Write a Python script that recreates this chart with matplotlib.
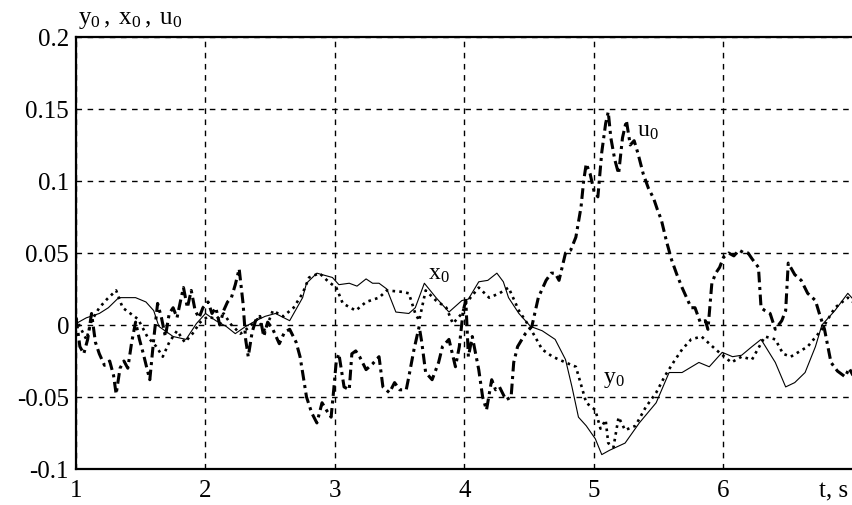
import matplotlib
matplotlib.use("Agg")
import matplotlib.pyplot as plt

plt.rcParams['font.family'] = ['Liberation Serif', 'DejaVu Serif']
plt.rcParams['mathtext.fontset'] = 'custom'
plt.rcParams['mathtext.rm'] = 'Liberation Serif'
plt.rcParams['mathtext.it'] = 'Liberation Serif'

# ---- data ----
t_x = [1.00, 1.08, 1.18, 1.25, 1.33, 1.38, 1.46, 1.54, 1.60, 1.64, 1.75, 1.85, 1.93, 2.00,
       2.08, 2.16, 2.23, 2.31, 2.39, 2.46, 2.54, 2.65, 2.75, 2.78, 2.86, 2.98, 3.03, 3.11,
       3.17, 3.24, 3.29, 3.34, 3.40, 3.47, 3.57, 3.62, 3.69, 3.78, 3.88, 3.98, 4.03, 4.11,
       4.18, 4.25, 4.30, 4.34, 4.42, 4.51, 4.60, 4.70, 4.78, 4.83, 4.88, 4.94, 5.01, 5.06,
       5.12, 5.24, 5.35, 5.48, 5.58, 5.68, 5.81, 5.89, 5.99, 6.07, 6.14, 6.22, 6.29, 6.40,
       6.48, 6.55, 6.63, 6.71, 6.76, 6.86, 6.96, 7.00]
x0 = [0.001, 0.005, 0.008, 0.012, 0.019, 0.019, 0.019, 0.016, 0.010, -0.001, -0.008, -0.010,
      0.001, 0.008, 0.003, -0.001, -0.006, -0.001, 0.003, 0.006, 0.008, 0.003, 0.019, 0.029,
      0.036, 0.033, 0.028, 0.029, 0.027, 0.032, 0.029, 0.029, 0.025, 0.009, 0.008, 0.012,
      0.029, 0.019, 0.009, 0.017, 0.018, 0.030, 0.031, 0.036, 0.030, 0.019, 0.008, -0.001,
      -0.004, -0.010, -0.024, -0.043, -0.064, -0.070, -0.079, -0.090, -0.087, -0.082, -0.068,
      -0.054, -0.033, -0.033, -0.026, -0.029, -0.019, -0.022, -0.021, -0.015, -0.010, -0.026,
      -0.043, -0.040, -0.033, -0.015, 0.000, 0.010, 0.022, 0.018]

t_y = [1.00, 1.04, 1.08, 1.12, 1.18, 1.24, 1.31, 1.36, 1.42, 1.48, 1.55, 1.62, 1.67, 1.72,
       1.78, 1.84, 1.90, 1.96, 2.02, 2.08, 2.14, 2.20, 2.27, 2.33, 2.40, 2.46, 2.52, 2.60,
       2.68, 2.75, 2.80, 2.88, 2.95, 3.01, 3.06, 3.16, 3.24, 3.34, 3.40, 3.52, 3.57, 3.62,
       3.65, 3.70, 3.78, 3.86, 3.91, 3.98, 4.01, 4.11, 4.19, 4.27, 4.34, 4.42, 4.50, 4.60,
       4.68, 4.78, 4.86, 4.94, 5.01, 5.05, 5.09, 5.11, 5.15, 5.19, 5.24, 5.32, 5.40, 5.48,
       5.55, 5.62, 5.68, 5.75, 5.83, 5.94, 6.06, 6.14, 6.22, 6.32, 6.40, 6.46, 6.52, 6.65,
       6.76, 6.86, 6.96, 7.00]
y0 = [0.005, -0.003, -0.010, 0.003, 0.012, 0.018, 0.024, 0.012, 0.008, 0.004, -0.008, -0.015,
      -0.022, -0.012, -0.004, -0.012, -0.006, 0.002, 0.006, 0.004, 0.008, 0.000, -0.006,
      -0.002, 0.004, -0.004, 0.010, 0.006, 0.012, 0.022, 0.033, 0.036, 0.030, 0.026, 0.015,
      0.010, 0.016, 0.019, 0.024, 0.023, 0.022, 0.008, 0.003, 0.024, 0.017, 0.012, 0.001,
      0.008, 0.015, 0.026, 0.019, 0.022, 0.026, 0.010, -0.001, -0.017, -0.022, -0.026, -0.029,
      -0.054, -0.059, -0.072, -0.066, -0.082, -0.085, -0.064, -0.073, -0.070, -0.057, -0.047,
      -0.035, -0.025, -0.017, -0.010, -0.008, -0.017, -0.026, -0.022, -0.024, -0.008, -0.010,
      -0.020, -0.022, -0.015, -0.003, 0.012, 0.019, 0.016]

t_u = [1.00, 1.03, 1.06, 1.09, 1.12, 1.15, 1.18, 1.22, 1.26, 1.29, 1.31, 1.34, 1.37, 1.40,
       1.43, 1.46, 1.49, 1.52, 1.55, 1.57, 1.60, 1.63, 1.66, 1.69, 1.72, 1.75, 1.78, 1.81,
       1.83, 1.86, 1.89, 1.92, 1.95, 1.98, 2.02, 2.05, 2.08, 2.11, 2.14, 2.17, 2.20, 2.23,
       2.26, 2.29, 2.31, 2.33, 2.36, 2.39, 2.42, 2.45, 2.48, 2.52, 2.57, 2.61, 2.65, 2.70,
       2.73, 2.75, 2.78, 2.82, 2.86, 2.90, 2.94, 2.97, 2.99, 3.01, 3.03, 3.07, 3.11, 3.13,
       3.16, 3.19, 3.24, 3.29, 3.34, 3.37, 3.42, 3.46, 3.50, 3.55, 3.57, 3.61, 3.65, 3.67,
       3.70, 3.75, 3.80, 3.83, 3.88, 3.93, 3.96, 3.99, 4.01, 4.03, 4.06, 4.11, 4.14, 4.17,
       4.21, 4.24, 4.27, 4.32, 4.36, 4.38, 4.41, 4.47, 4.52, 4.57, 4.63, 4.67, 4.70, 4.73,
       4.78, 4.82, 4.86, 4.90, 4.92, 4.94, 4.97, 5.00, 5.03, 5.06, 5.09, 5.11, 5.13, 5.16,
       5.19, 5.22, 5.25, 5.28, 5.31, 5.34, 5.38, 5.42, 5.46, 5.49, 5.52, 5.56, 5.60, 5.64,
       5.68, 5.72, 5.75, 5.78, 5.82, 5.86, 5.88, 5.91, 5.94, 5.97, 6.00, 6.04, 6.08, 6.12,
       6.16, 6.19, 6.22, 6.27, 6.29, 6.32, 6.36, 6.40, 6.45, 6.48, 6.50, 6.55, 6.60, 6.65,
       6.71, 6.74, 6.78, 6.83, 6.88, 6.94, 6.97, 7.00]
u0 = [0.005, -0.015, -0.020, -0.010, 0.008, -0.012, -0.020, -0.028, -0.025, -0.035, -0.048,
      -0.030, -0.025, -0.030, -0.012, 0.002, -0.010, -0.020, -0.031, -0.038, -0.010, 0.015,
      0.005, -0.008, 0.008, 0.012, 0.005, 0.018, 0.026, 0.012, 0.024, 0.010, 0.005, 0.012,
      0.016, 0.008, 0.012, 0.000, 0.010, 0.016, 0.019, 0.028, 0.039, 0.015, -0.010, -0.022,
      -0.005, 0.004, 0.006, -0.008, 0.002, -0.003, -0.013, -0.005, -0.003, -0.012, -0.022,
      -0.033, -0.050, -0.061, -0.068, -0.054, -0.060, -0.064, -0.045, -0.025, -0.020, -0.043,
      -0.045, -0.020, -0.018, -0.022, -0.031, -0.027, -0.022, -0.043, -0.047, -0.040, -0.045,
      -0.045, -0.036, -0.017, -0.001, -0.012, -0.033, -0.038, -0.026, -0.015, -0.010, -0.029,
      -0.015, 0.010, 0.017, -0.022, -0.008, -0.031, -0.050, -0.059, -0.038, -0.045, -0.043,
      -0.052, -0.050, -0.026, -0.015, -0.006, -0.001, 0.019, 0.031, 0.036, 0.036, 0.031,
      0.050, 0.052, 0.061, 0.082, 0.100, 0.112, 0.105, 0.093, 0.089, 0.120, 0.140, 0.148,
      0.130, 0.115, 0.105, 0.130, 0.142, 0.125, 0.128, 0.119, 0.105, 0.095, 0.088, 0.080,
      0.073, 0.058, 0.045, 0.035, 0.026, 0.018, 0.012, 0.012, 0.002, 0.003, -0.003, 0.029,
      0.036, 0.040, 0.047, 0.050, 0.048, 0.052, 0.050, 0.050, 0.046, 0.040, 0.012, 0.010,
      0.008, -0.003, 0.003, 0.010, 0.043, 0.035, 0.031, 0.022, 0.017, 0.008, -0.003, -0.026,
      -0.032, -0.036, -0.030, -0.035]

x_ticks = [1, 2, 3, 4, 5, 6]
y_ticks = [-0.1, -0.05, 0, 0.05, 0.1, 0.15, 0.2]
y_tick_labels = ['-0.1', '-0.05', '0', '0.05', '0.1', '0.15', '0.2']

fig = plt.figure(figsize=(8.53, 5.06), dpi=100)
ax = fig.add_axes([76/853, 1 - 470/506, 1 - 76/853, (470 - 38)/506])

ax.plot(t_x, x0, color='black', lw=0.8, ls='-')
ax.plot(t_y, y0, color='black', lw=1.9, ls=(0, (1, 1.6)))
ax.plot(t_u, u0, color='black', lw=2.2, ls=(0, (3.5, 1.5, 1, 1.5)))

ax.set_xlim(1, 7)
ax.set_ylim(-0.1, 0.2)
ax.set_xticks(x_ticks)
ax.set_xticklabels([str(v) for v in x_ticks])
ax.set_yticks(y_ticks)
ax.set_yticklabels(y_tick_labels)
ax.tick_params(axis='y', length=0, labelsize=18, pad=5)
ax.tick_params(axis='x', length=0, labelsize=18, pad=7)
ax.grid(True, color='black', ls=(0, (4, 4)), lw=1.0)

for s in ['left', 'bottom', 'top']:
    ax.spines[s].set_linewidth(1.6)
ax.spines['right'].set_visible(False)

ax.text(3.72, 0.036, r'$\mathregular{x_0}$', fontsize=17, va='center', ha='left')
ax.text(5.07, -0.037, r'$\mathregular{y_0}$', fontsize=17, va='center', ha='left')
ax.text(5.33, 0.135, r'$\mathregular{u_0}$', fontsize=17, va='center', ha='left')

fig.text(78/853, 1 - 20/506, r'$\mathregular{y_0\,,\;x_0\,,\;u_0}$', fontsize=18, va='center', ha='left')
fig.text(819/853, 1 - 491/506, 't, s', fontsize=18, va='center', ha='left')

fig.savefig('out.png', dpi=100)
